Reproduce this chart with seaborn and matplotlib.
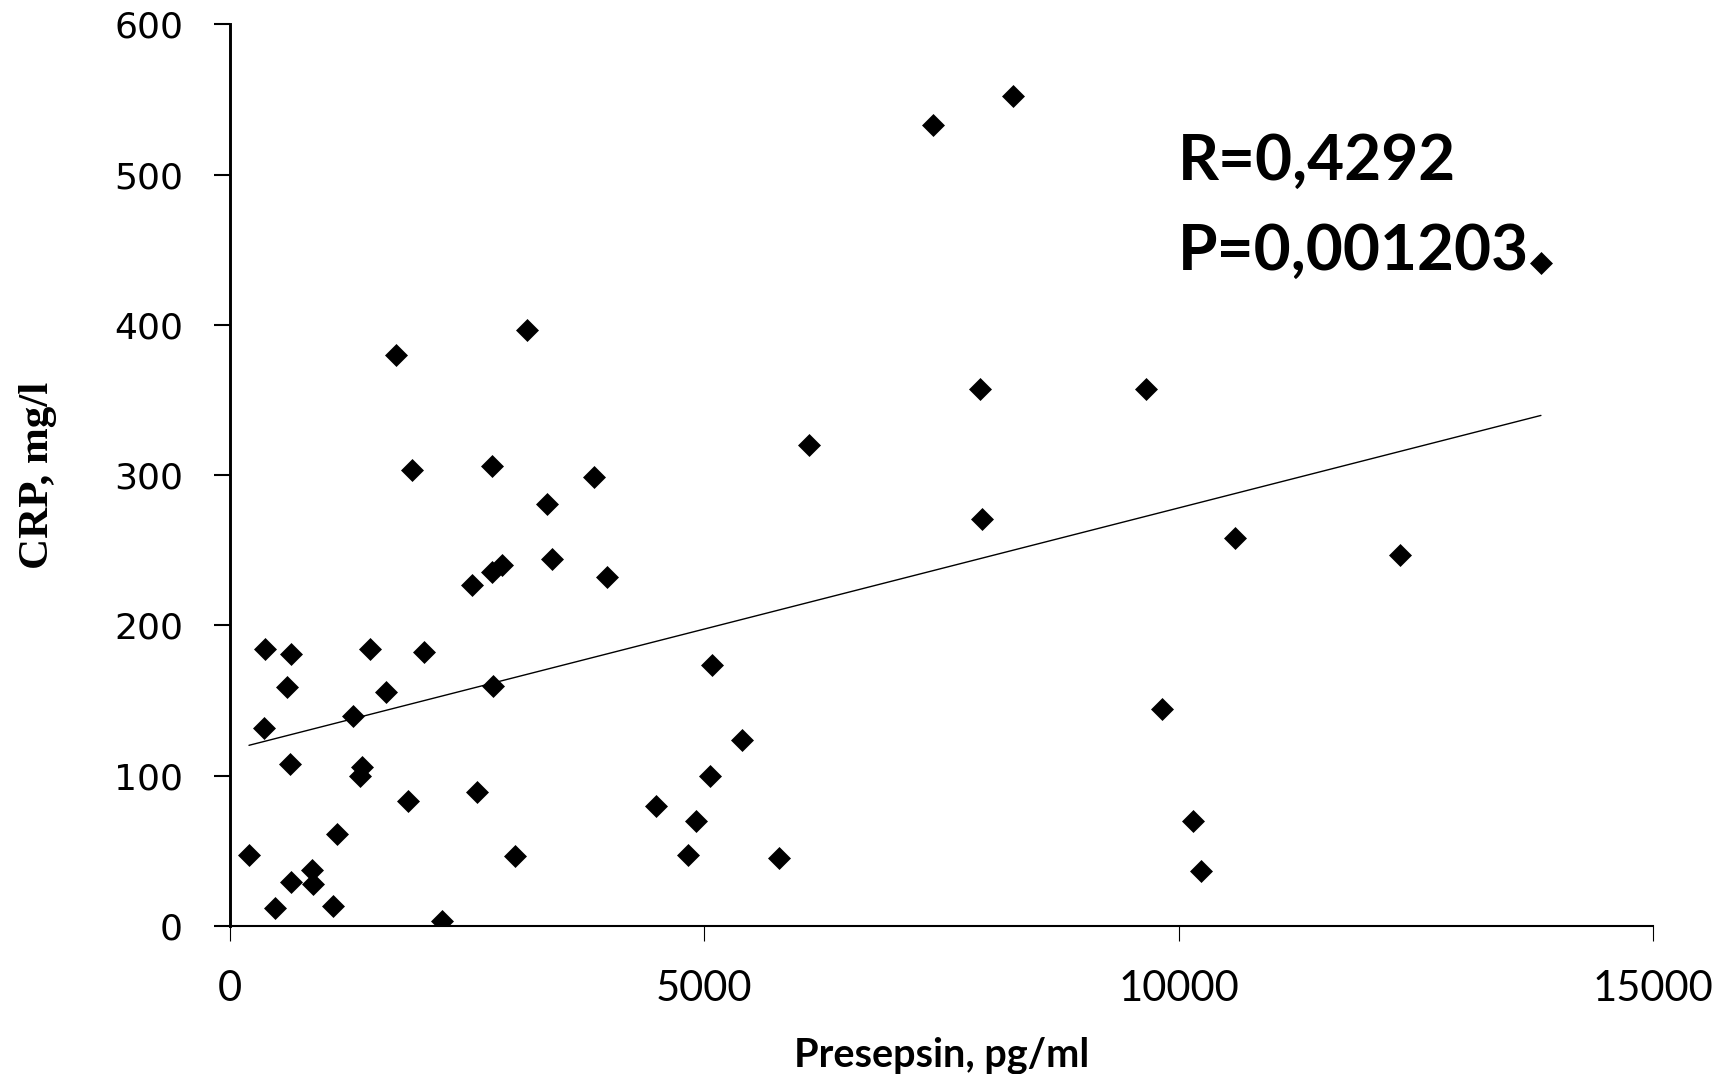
import matplotlib
matplotlib.use("Agg")
import matplotlib.pyplot as plt
import numpy as np
import pandas as pd
import seaborn as sns

# Presepsin (pg/ml) and CRP (mg/l) per patient
presepsin = [205, 363, 374, 479, 609, 637, 644, 644, 865, 883,
             1087, 1129, 1304, 1374, 1392, 1480, 1645, 1750, 1880, 1925,
             2048, 2241, 2550, 2603, 2761, 2761, 2778, 2866, 3007, 3133,
             3340, 3396, 3838, 3975, 4495, 4835, 4920, 5060, 5081, 5404,
             5787, 6103, 7412, 7903, 7924, 8254, 9659, 9823, 10153, 10241,
             10592, 12337, 13818]
crp = [47, 132, 184, 12, 159, 108, 181, 29.5, 37, 28,
       13.5, 61, 140, 99.5, 106, 184, 155.5, 380, 83, 303.5,
       182, 3, 227, 89, 306, 235.5, 160, 240, 46.5, 396.5,
       281, 244, 299, 232, 80, 47, 70, 99.5, 174, 124,
       45, 320, 533, 357, 271, 552, 357, 144.5, 70, 36.5,
       258, 247, 441]

x_ticks = [0, 5000, 10000, 15000]
y_ticks = [0, 100, 200, 300, 400, 500, 600]
x_label = "Presepsin, pg/ml"
y_label = "CRP, mg/l"
stats_lines = ["R=0,4292", "P=0,001203"]

df = pd.DataFrame({"presepsin": presepsin, "crp": crp})

sns.set_theme(style="white")
plt.rcParams["font.family"] = ["Lato", "DejaVu Sans"]
plt.rcParams.update({
    "text.color": "black",
    "axes.labelcolor": "black",
    "xtick.color": "black",
    "ytick.color": "black",
    "axes.edgecolor": "black",
})

fig = plt.figure(figsize=(17.31, 10.74), dpi=100)
ax = fig.add_axes([0.1326, 0.1378, 0.8224, 0.8396])

sns.regplot(
    data=df, x="presepsin", y="crp", ax=ax, ci=None, truncate=True,
    marker="D",
    scatter_kws=dict(s=137, color="black", linewidths=0, alpha=1),
    line_kws=dict(color="black", linewidth=1.0),
)

ax.set_xlim(0, 15000)
ax.set_ylim(0, 600)
ax.set_xticks(x_ticks)
ax.set_yticks(y_ticks)
ax.set_xticklabels([str(v) for v in x_ticks], fontsize=30, family=["Lato", "DejaVu Sans"])
ax.set_yticklabels([str(v) for v in y_ticks], fontsize=26, family=["DejaVu Sans"])

for side in ("top", "right"):
    ax.spines[side].set_visible(False)
ax.spines["left"].set_linewidth(2.1)
ax.spines["bottom"].set_linewidth(1.5)
ax.spines["left"].set_color("black")
ax.spines["bottom"].set_color("black")

ax.tick_params(axis="y", direction="out", length=11.5, width=1.5, color="black",
               labelcolor="black", pad=22, left=True)
ax.tick_params(axis="x", direction="out", length=11, width=0.8, color="black",
               labelcolor="black", pad=21, bottom=True)

ax.set_xlabel(x_label, fontsize=28.5, fontweight="bold", color="black",
              family=["Lato", "DejaVu Sans"])
ax.set_ylabel(y_label, fontsize=31, fontweight="bold", color="black",
              family=["Liberation Serif", "DejaVu Serif"])
ax.xaxis.set_label_coords(0.5, -0.123)
ax.yaxis.set_label_coords(-0.1215, 0.5)

ax.text(9990, 496.3, stats_lines[0], fontsize=46, fontweight="bold", color="black",
        ha="left", va="baseline", family=["Lato", "DejaVu Sans"])
ax.text(9990, 436.5, stats_lines[1], fontsize=46, fontweight="bold", color="black",
        ha="left", va="baseline", family=["Lato", "DejaVu Sans"])

fig.savefig("out.png", dpi=100, facecolor="white")
